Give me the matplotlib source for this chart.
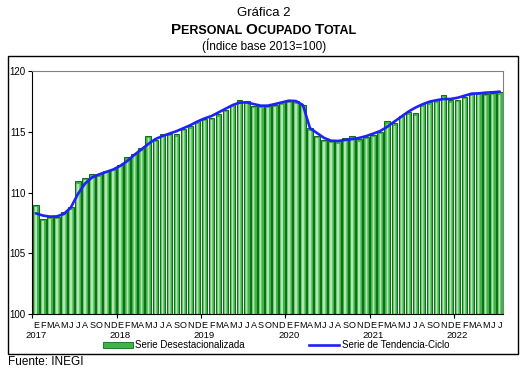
import matplotlib
matplotlib.use("Agg")
import matplotlib.pyplot as plt
from matplotlib.patches import Patch, Rectangle
from matplotlib.lines import Line2D
import numpy as np

plt.rcParams['font.family'] = ['Liberation Sans', 'DejaVu Sans']

months = ['E', 'F', 'M', 'A', 'M', 'J', 'J', 'A', 'S', 'O', 'N', 'D']
years = ['2017', '2018', '2019', '2020', '2021', '2022']

desest = [
    109.0, 107.85, 108.0, 108.0, 108.4, 108.8, 110.95, 111.2, 111.5, 111.5, 111.8, 111.95,
    112.3, 112.9, 113.2, 113.65, 114.67, 114.35, 114.8, 114.85, 114.8, 115.25, 115.45, 115.85,
    116.05, 116.15, 116.45, 116.8, 117.2, 117.6, 117.5, 117.15, 117.15, 117.15, 117.2, 117.42,
    117.55, 117.5, 117.2, 115.3, 114.67, 114.35, 114.25, 114.22, 114.47, 114.66, 114.4, 114.6,
    114.78, 115.0, 115.88, 115.7, 116.3, 116.6, 116.52, 117.27, 117.43, 117.6, 118.04, 117.6,
    117.62, 117.9, 118.17, 118.23, 118.12, 118.2, 118.26,
]
tendencia = [
    108.3, 108.12, 108.03, 108.05, 108.25, 108.8, 109.9, 110.75, 111.25, 111.5, 111.7, 111.9,
    112.2, 112.6, 113.1, 113.55, 114.0, 114.4, 114.65, 114.85, 115.05, 115.3, 115.55, 115.85,
    116.1, 116.3, 116.6, 116.9, 117.2, 117.4, 117.42, 117.28, 117.15, 117.15, 117.28, 117.42,
    117.56, 117.53, 117.2, 115.3, 114.9, 114.5, 114.27, 114.25, 114.33, 114.4, 114.5, 114.65,
    114.85, 115.07, 115.42, 115.84, 116.25, 116.66, 116.99, 117.26, 117.48, 117.6, 117.7, 117.7,
    117.8, 117.97, 118.14, 118.16, 118.22, 118.25, 118.3,
]

n = len(desest)
x = np.arange(n)
month_labels = [months[i % 12] for i in range(n)]

W, H = 528, 374
fig = plt.figure(figsize=(W / 100, H / 100), dpi=100)
ax = fig.add_axes([32.3 / W, 1 - 314.3 / H, 471 / W, 243.3 / H])

bar_face = '#3cb449'
vals = np.array(desest)
ax.bar(x, vals - 100, bottom=100, width=0.8, color=bar_face,
       edgecolor='#0b6e12', linewidth=0.7, zorder=2)
ax.bar(x, vals - 100.2, bottom=100, width=0.46, color='#6fc873',
       linewidth=0, zorder=2.1)
ax.bar(x, vals - 100.2, bottom=100, width=0.2, color='#b3e6b3',
       linewidth=0, zorder=2.2)
ax.plot(x, tendencia, color='#1f1fff', linewidth=1.9, zorder=3, solid_capstyle='round')

ax.set_xlim(-0.5, n - 0.5)
ax.set_ylim(100, 120)
ax.set_yticks([100, 105, 110, 115, 120])
ax.tick_params(axis='y', direction='out', length=3, width=0.8, labelsize=7, pad=2)

ax.set_xticks(np.arange(-0.5, n, 12))
ax.set_xticklabels([])
ax.tick_params(axis='x', which='major', direction='out', length=3, width=0.8)
ax.set_xticks(x, minor=True)
ax.set_xticklabels(month_labels, minor=True, fontsize=6.5)
ax.tick_params(axis='x', which='minor', length=0, pad=5)

for i, yr in enumerate(years):
    ax.text(i * 12, -(336 - 314.3) / 243.3, yr, transform=ax.get_xaxis_transform(),
            ha='center', va='center', fontsize=6.8)

for s in ['top', 'right']:
    ax.spines[s].set_color('#808080')
    ax.spines[s].set_linewidth(0.8)
for s in ['left', 'bottom']:
    ax.spines[s].set_color('black')
    ax.spines[s].set_linewidth(0.8)

# outer frame
fig.add_artist(Rectangle((8 / W, 1 - 354 / H), 510 / W, 298 / H, transform=fig.transFigure,
                         fill=False, edgecolor='black', linewidth=1.0))

handles = [Patch(facecolor=bar_face, edgecolor='#0b6e12', linewidth=0.6),
           Line2D([0], [0], color='#1f1fff', linewidth=1.9)]
fig.legend(handles, ['Serie Desestacionalizada', 'Serie de Tendencia-Ciclo'],
           loc='center', bbox_to_anchor=(276 / W, 1 - 345.5 / H), ncol=2, frameon=False,
           fontsize=7, handlelength=3.1, handleheight=0.5, handletextpad=0.25,
           columnspacing=6.6, borderpad=0)

# titles
fig.text(0.5, 1 - 13 / H, 'Gráfica 2', ha='center', va='center', fontsize=9.5)
fig.text(0.5, 1 - 46 / H, '(Índice base 2013=100)', ha='center', va='center', fontsize=8.5)

pieces = [('P', 11), ('ERSONAL ', 9), ('O', 11), ('CUPADO ', 9), ('T', 11), ('OTAL', 9)]
fig.canvas.draw()
renderer = fig.canvas.get_renderer()
texts = []
for s, fs in pieces:
    t = fig.text(0, 1 - 34.5 / H, s, fontsize=fs, fontweight='bold', ha='left', va='baseline')
    texts.append(t)
widths = [t.get_window_extent(renderer).width for t in texts]
total = sum(widths)
xpos = (W / 2 - total / 2)
for t, w in zip(texts, widths):
    t.set_x(xpos / W)
    xpos += w

fig.text(8 / W, 1 - 362 / H, 'Fuente: INEGI', ha='left', va='center', fontsize=8.5)

fig.savefig('out.png', dpi=100)
